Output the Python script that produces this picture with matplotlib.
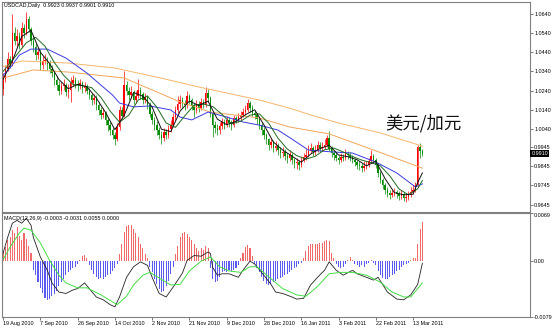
import numpy as np
import matplotlib
matplotlib.use("Agg")
import matplotlib.pyplot as plt
from matplotlib.transforms import blended_transform_factory

plt.rcParams["font.family"] = ["Liberation Sans", "DejaVu Sans"]

# daily USDCAD bars, prices in pips (/10000)
opens = [
    10250, 10300, 10352, 10405, 10380, 10540, 10500, 10528, 10480, 10565,
    10540, 10612, 10560, 10500, 10470, 10425, 10440, 10372, 10395, 10402,
    10380, 10355, 10330, 10296, 10270, 10240, 10262, 10270, 10235, 10245,
    10280, 10295, 10275, 10268, 10280, 10252, 10260, 10240, 10215, 10190,
    10200, 10165, 10140, 10112, 10125, 10088, 10060, 10035, 10010, 9985,
    10050, 10140, 10110, 10270, 10240, 10215, 10235, 10190, 10210, 10245,
    10220, 10192, 10205, 10165, 10120, 10088, 10060, 10035, 10010, 9995,
    10025, 10008, 10040, 10062, 10100, 10140, 10170, 10192, 10175, 10165,
    10210, 10190, 10160, 10138, 10170, 10150, 10180, 10165, 10230, 10200,
    10120, 10060, 10045, 10032, 10055, 10075, 10060, 10088, 10070, 10060,
    10095, 10088, 10100, 10112, 10130, 10140, 10175, 10150, 10125, 10112,
    10090, 10060, 10035, 10008, 9985, 9956, 9970, 9940, 9950, 9930,
    9912, 9920, 9900, 9888, 9905, 9878, 9860, 9866, 9850, 9878,
    9895, 9904, 9925, 9940, 9920, 9930, 9955, 9940, 9948, 9956,
    9995, 9935, 9915, 9904, 9890, 9878, 9895, 9888, 9910, 9904,
    9895, 9878, 9865, 9852, 9845, 9836, 9848, 9852, 9870, 9900,
    9880, 9852, 9810, 9774, 9745, 9721, 9705, 9695, 9705, 9711,
    9700, 9690, 9698, 9680, 9685, 9695, 9712, 9721, 9745, 9945,
    9923,
]
highs = [
    10330, 10370, 10440, 10420, 10640, 10570, 10560, 10545, 10600, 10590,
    10650, 10630, 10575, 10530, 10490, 10470, 10455, 10420, 10430, 10415,
    10398, 10372, 10345, 10315, 10290, 10285, 10300, 10282, 10275, 10310,
    10320, 10310, 10295, 10300, 10290, 10285, 10275, 10255, 10230, 10225,
    10215, 10180, 10155, 10150, 10135, 10100, 10075, 10050, 10025, 10070,
    10160, 10155, 10345, 10290, 10260, 10265, 10245, 10240, 10300, 10260,
    10235, 10230, 10215, 10180, 10135, 10100, 10080, 10050, 10030, 10045,
    10040, 10060, 10085, 10125, 10160, 10210, 10215, 10205, 10190, 10240,
    10225, 10200, 10175, 10190, 10185, 10200, 10195, 10260, 10250, 10210,
    10130, 10080, 10065, 10075, 10095, 10090, 10110, 10100, 10085, 10115,
    10110, 10125, 10135, 10150, 10165, 10195, 10185, 10165, 10140, 10125,
    10100, 10075, 10050, 10020, 9995, 9995, 9980, 9975, 9965, 9945,
    9945, 9935, 9915, 9930, 9915, 9890, 9890, 9880, 9900, 9915,
    9935, 9955, 9965, 9950, 9955, 9975, 9970, 9970, 9985, 10010,
    10030, 9950, 9930, 9920, 9905, 9915, 9910, 9935, 9925, 9920,
    9905, 9890, 9880, 9870, 9860, 9870, 9875, 9890, 9932, 9910,
    9890, 9860, 9820, 9785, 9760, 9735, 9720, 9725, 9730, 9720,
    9715, 9720, 9710, 9705, 9715, 9735, 9745, 9765, 9955, 9965,
    9937,
]
lows = [
    10215, 10285, 10340, 10360, 10370, 10480, 10470, 10455, 10470, 10515,
    10530, 10545, 10480, 10440, 10400, 10405, 10350, 10355, 10380, 10350,
    10330, 10310, 10270, 10245, 10215, 10225, 10245, 10210, 10200, 10180,
    10265, 10255, 10240, 10250, 10230, 10235, 10220, 10195, 10165, 10170,
    10140, 10115, 10090, 10095, 10060, 10030, 10010, 9985, 9955, 9975,
    10035, 10090, 10100, 10215, 10190, 10200, 10170, 10175, 10200, 10195,
    10170, 10175, 10145, 10100, 10065, 10035, 10010, 9985, 9960, 9975,
    9985, 9995, 10025, 10050, 10085, 10125, 10150, 10155, 10140, 10150,
    10170, 10140, 10100, 10125, 10130, 10140, 10150, 10155, 10180, 10100,
    10000, 10020, 10010, 10015, 10040, 10040, 10050, 10050, 10035, 10050,
    10070, 10075, 10085, 10100, 10115, 10130, 10130, 10105, 10090, 10065,
    10040, 10010, 9985, 9960, 9930, 9940, 9920, 9925, 9905, 9890,
    9895, 9880, 9860, 9875, 9855, 9835, 9830, 9828, 9840, 9865,
    9880, 9895, 9915, 9900, 9905, 9920, 9920, 9925, 9935, 9945,
    9925, 9895, 9880, 9870, 9855, 9865, 9870, 9880, 9885, 9875,
    9860, 9845, 9830, 9825, 9815, 9820, 9830, 9840, 9860, 9860,
    9835, 9790, 9755, 9725, 9700, 9685, 9675, 9685, 9690, 9680,
    9670, 9675, 9665, 9658, 9670, 9685, 9700, 9710, 9735, 9890,
    9901,
]
closes = [
    10300, 10352, 10405, 10380, 10540, 10500, 10528, 10480, 10565, 10540,
    10612, 10560, 10500, 10470, 10425, 10440, 10372, 10395, 10402, 10380,
    10355, 10330, 10296, 10270, 10240, 10262, 10270, 10235, 10245, 10280,
    10295, 10275, 10268, 10280, 10252, 10260, 10240, 10215, 10190, 10200,
    10165, 10140, 10112, 10125, 10088, 10060, 10035, 10010, 9985, 10050,
    10140, 10110, 10270, 10240, 10215, 10235, 10190, 10210, 10245, 10220,
    10192, 10205, 10165, 10120, 10088, 10060, 10035, 10010, 9995, 10025,
    10008, 10040, 10062, 10100, 10140, 10170, 10192, 10175, 10165, 10210,
    10190, 10160, 10138, 10170, 10150, 10180, 10165, 10230, 10200, 10120,
    10060, 10045, 10032, 10055, 10075, 10060, 10088, 10070, 10060, 10095,
    10088, 10100, 10112, 10130, 10140, 10175, 10150, 10125, 10112, 10090,
    10060, 10035, 10008, 9985, 9956, 9970, 9940, 9950, 9930, 9912,
    9920, 9900, 9888, 9905, 9878, 9860, 9866, 9850, 9878, 9895,
    9904, 9925, 9940, 9920, 9930, 9955, 9940, 9948, 9956, 9995,
    9935, 9915, 9904, 9890, 9878, 9895, 9888, 9910, 9904, 9895,
    9878, 9865, 9852, 9845, 9836, 9848, 9852, 9870, 9900, 9880,
    9852, 9810, 9774, 9745, 9721, 9705, 9695, 9705, 9711, 9700,
    9690, 9698, 9680, 9685, 9695, 9712, 9721, 9745, 9945, 9923,
    9910,
]

# moving averages (bar index, pips)
ma_black_idx = list(range(0, 177, 4)) + [178, 180]
ma_black = [
    10300, 10395, 10523, 10555, 10441, 10381, 10298, 10250, 10273, 10260,
    10202, 10126, 10036, 10111, 10230, 10211, 10154, 10038, 10026, 10133,
    10186, 10162, 10185, 10091, 10062, 10080, 10114, 10140, 10061, 9972,
    9930, 9898, 9866, 9908, 9937, 9955, 9904, 9895, 9879, 9847,
    9871, 9780, 9707, 9696, 9699, 9760, 9810,
]
ma_green_idx = [0, 6] + list(range(10, 179, 4)) + [180]
ma_green = [
    10340, 10429, 10490, 10518, 10472, 10387, 10320, 10272, 10266, 10256,
    10205, 10133, 10075, 10112, 10191, 10212, 10154, 10071, 10048, 10108,
    10164, 10170, 10157, 10116, 10067, 10080, 10112, 10119, 10070, 9992,
    9935, 9901, 9882, 9897, 9931, 9940, 9920, 9896, 9877, 9864,
    9847, 9795, 9726, 9696, 9727, 9771,
]
ma_blue_idx = [0, 3, 7, 12, 19, 27, 36, 42, 47, 50, 56, 63, 72, 76, 81, 88,
               96, 103, 110, 118, 124, 131, 141, 150, 160, 169, 177, 180]
ma_blue = [10320, 10358, 10426, 10457, 10457, 10410, 10332, 10269, 10217,
           10175, 10155, 10160, 10139, 10102, 10087, 10128, 10102, 10076,
           10060, 10034, 9987, 9930, 9920, 9914, 9867, 9810, 9737, 9753]
ma_slow_idx = [0, 8, 28, 48, 68, 84, 110, 124, 132, 144, 162, 180]
ma_slow = [10366, 10395, 10384, 10358, 10305, 10259, 10191, 10145, 10113,
           10071, 10019, 9950]
ma_mid_idx = [0, 13, 28, 52, 67, 76, 89, 110, 123, 140, 159, 180]
ma_mid = [10306, 10348, 10337, 10306, 10228, 10181, 10128, 10097, 10050,
          10014, 9930, 9835]

# MACD(12,26,9), values in 1e-4
macd_hist = [
    15, 20, 30, 35, 44, 40, 48, 36, 30, 40, 32, 22, 12,
    -12, -20, -30, -38, -45, -52, -55, -54, -50, -47, -42, -36, -30, -25,
    -20, -16, -12, -10, -8, -4,
    2, 8, 9, 4,
    -6, -12, -18, -22, -26, -24, -26, -22, -20, -18, -14, -10, -4,
    10, 25, 42, 50, 52, 51, 46, 40, 34, 25, 18, 10, 4,
    -8, -16, -25, -33, -40, -44, -42, -36, -28, -18, -8,
    10, 22, 34, 40, 42, 38, 34, 30, 24, 18, 14, 18, 16, 22, 18,
    -10, -26, -30, -28, -22, -16, -14, -15, -13, -14, -12, -10, -6,
    4, 12, 20, 23, 18, 8,
    -4, -10, -16, -22, -28, -32, -34, -32, -30, -28, -26, -24, -22, -20,
    -18, -16, -12, -10, -8, -4, -2,
    4, 14, 22, 24, 25, 24, 25, 26, 26, 28, 30, 28, 12, 4,
    -4, -8, -10, -8, -4,
    2, 6, 2,
    -4, -6, -8, -6, -8, -4, -2, 2, -2, -6,
    -14, -20, -24, -26, -25, -22, -20, -18, -14, -12, -8, -6, -4, -2,
    2, 5, 5, 25, 46, 55,
]
macd_idx = [0, 2, 4, 6, 8, 10, 12, 13, 16, 19, 21, 24, 27, 30, 32, 35, 37,
            40, 43, 46, 48, 50, 53, 56, 59, 62, 64, 67, 70, 73, 77, 79, 82,
            85, 88, 89, 90, 92, 94, 97, 101, 103, 106, 108, 111, 115, 117,
            120, 124, 126, 129, 132, 135, 138, 140, 143, 146, 150, 152, 156,
            159, 161, 165, 169, 172, 175, 178, 180]
macd_line = [11, 34, 54, 58, 54, 61, 51, 34, 6, -13, -31, -44, -46, -41,
             -39, -31, -39, -51, -55, -62, -65, -51, -23, -8, -1, -6, -23,
             -46, -51, -37, -17, 1, 8, 7, 13, 11, -9, -20, -18, -18, -23,
             -13, 0, -4, -16, -33, -44, -46, -51, -54, -53, -34, -23, -13,
             -1, -13, -20, -13, -18, -23, -27, -23, -44, -54, -55, -48,
             -33, -3]
signal_idx = [0, 3, 7, 9, 12, 16, 20, 24, 27, 32, 36, 42, 49, 53, 56, 60,
              63, 67, 72, 76, 80, 85, 89, 93, 97, 102, 106, 109, 115, 120,
              126, 130, 135, 140, 145, 150, 156, 162, 167, 172, 175, 180]
signal_line = [2, 20, 40, 47, 44, 26, 1, -20, -31, -38, -38, -48, -62, -50,
               -34, -20, -16, -24, -34, -33, -14, 0, 6, -8, -14, -16, -8,
               -8, -25, -39, -48, -50, -36, -18, -16, -16, -20, -30, -44,
               -51, -51, -31]

tick_pos = [0, 16, 32, 48, 64, 80, 96, 112, 128, 144, 160, 176]
tick_dates = ["19 Aug 2010", "7 Sep 2010", "26 Sep 2010", "14 Oct 2010",
              "2 Nov 2010", "21 Nov 2010", "9 Dec 2010", "28 Dec 2010",
              "16 Jan 2011", "3 Feb 2011", "22 Feb 2011", "13 Mar 2011"]
price_ticks = [1.0640, 1.0540, 1.0440, 1.0340, 1.0240, 1.0140, 1.0040,
               0.9945, 0.9845, 0.9745, 0.9645]

W, H = 553, 329
FS = 3.9
UP, DOWN = "#ff0000", "#008a00"
GREY = "#808080"

o = np.array(opens) / 10000
h = np.array(highs) / 10000
l = np.array(lows) / 10000
c = np.array(closes) / 10000
idx = np.arange(len(c))

fig = plt.figure(figsize=(W / 100, H / 100), dpi=100)
ax1 = fig.add_axes([2 / W, 1 - 212 / H, 528 / W, 210 / H])
ax2 = fig.add_axes([2 / W, 1 - 317 / H, 528 / W, 104 / H])

# candles
cols = np.where(c >= o, UP, DOWN)
ax1.vlines(idx, l, h, colors=cols, lw=0.5)
ax1.bar(idx, np.maximum(np.abs(c - o), 0.00003), bottom=np.minimum(o, c),
        width=0.62, color=cols, linewidth=0)

ax1.plot(ma_slow_idx, np.array(ma_slow) / 10000, color="#f6b66e", lw=0.7)
ax1.plot(ma_mid_idx, np.array(ma_mid) / 10000, color="#f2a65a", lw=0.7)
ax1.plot(ma_blue_idx, np.array(ma_blue) / 10000, color="#3a3ae0", lw=0.7)
ax1.plot(ma_green_idx, np.array(ma_green) / 10000, color="#1f6b1f", lw=0.7)
ax1.plot(ma_black_idx, np.array(ma_black) / 10000, color="#111111", lw=0.7)

ax1.set_xlim(-0.45, 226.2)
ax1.set_ylim(0.9606, 1.0703)
ax1.set_xticks([])
ax1.yaxis.tick_right()
ax1.set_yticks(price_ticks)
ax1.set_yticklabels([f"{v:.4f}" for v in price_ticks])

ax1.text(0.004, 0.993, "USDCAD,Daily  0.9923 0.9937 0.9901 0.9910",
         transform=ax1.transAxes, fontsize=FS, va="top", ha="left")
tr = blended_transform_factory(ax1.transAxes, ax1.transData)
ax1.text(1.003, c[-1], f"{c[-1]:.4f}", transform=tr, fontsize=FS,
         color="white", va="center", ha="left",
         bbox=dict(facecolor="black", edgecolor="none", pad=0.8))

fig.text(385 / W, 1 - 123 / H, "美元/加元", fontsize=12.5, fontweight="light",
         family=["Noto Sans CJK SC", "DejaVu Sans"], va="center", ha="left",
         color="#111111")

# MACD panel
hist = np.array(macd_hist) / 10000
ax2.bar(idx, hist, width=0.45, linewidth=0,
        color=np.where(hist >= 0, "#f06a6a", "#5a5af0"))
ax2.plot(macd_idx, np.array(macd_line) / 10000, color="#222222", lw=0.6)
ax2.plot(signal_idx, np.array(signal_line) / 10000, color="#44dd44", lw=0.7)
ax2.set_xlim(-0.45, 226.2)
ax2.set_ylim(-0.00795, 0.00685)
ax2.yaxis.tick_right()
ax2.set_yticks([-0.0079, 0.0, 0.0068])
ylabs = ax2.set_yticklabels(["-0.0079", "0.00", "0.0069"])
ylabs[2].set_va("top")
ax2.set_xticks(tick_pos)
xlabs = ax2.set_xticklabels(tick_dates)
for t in xlabs:
    t.set_ha("left")
ax2.text(0.004, 0.975, "MACD(12,26,9) -0.0003 -0.0031 0.0055 0.0000",
         transform=ax2.transAxes, fontsize=FS, va="top", ha="left")

for ax in (ax1, ax2):
    for sp in ax.spines.values():
        sp.set_color(GREY)
        sp.set_linewidth(0.8)
    ax.tick_params(axis="both", labelsize=FS, length=2, width=0.5,
                   pad=1, color="#444444")

fig.savefig("out.png", dpi=100)
